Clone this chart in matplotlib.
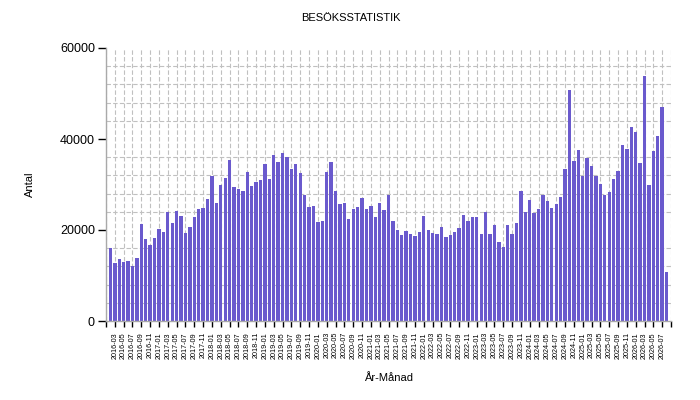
import matplotlib
matplotlib.use("Agg")
import matplotlib.pyplot as plt
from matplotlib.ticker import MultipleLocator, FixedLocator
import pandas as pd

plt.rcParams['font.family'] = ['Liberation Sans', 'DejaVu Sans']

# monthly visitor counts, 2016-02 .. 2026-08
months = [p.strftime('%Y-%m') for p in pd.period_range('2016-02', '2026-08', freq='M')]
antal = [
    16000, 12750, 13600, 13000, 13200, 12100, 13850, 21300, 18000, 16700,
    18250, 20200, 19550, 23950, 21550, 24200, 23100, 19350, 20650, 22850,
    24600, 24850, 26800, 31850, 25950, 29900, 31450, 35400, 29450, 29000,
    28550, 32750, 29650, 30550, 31000, 34500, 31200, 36500, 34950, 36900,
    36050, 33400, 34500, 32550, 27700, 25050, 25250, 21750, 22000, 32750,
    34950, 28550, 25700, 25950, 22400, 24600, 25050, 27050, 24600, 25250,
    22850, 25950, 24400, 27700, 22000, 20000, 18900, 19800, 19100, 18700,
    19550, 23100, 20000, 19350, 19100, 20650, 18450, 18900, 19550, 20450,
    23300, 22000, 22850, 22850, 19100, 23950, 19100, 21100, 17350, 16250,
    21100, 19100, 21550, 28550, 23950, 26600, 23750, 24600, 27700, 26350,
    24850, 25700, 27250, 33400, 50750, 35150, 37600, 31850, 35800, 34050,
    31850, 30100, 27700, 28350, 31200, 32950, 38700, 37800, 42650, 41550,
    34700, 53850, 29900, 37350, 40650, 47050, 10750,
]

fig = plt.figure(figsize=(7, 4), dpi=100)
ax = fig.add_axes([106 / 700, 1 - 321 / 400, 565 / 700, 273 / 400])

x = list(range(len(months)))
ax.bar(x, antal, width=0.76, color='#6A5ACD', zorder=2)

ax.set_xlim(-1, len(months))
ax.set_ylim(0, 60000)

# ticks every second month, grid on the same positions
tick_pos = list(range(-1, len(months) + 1, 2))
tick_lab = [months[p] if 0 <= p < len(months) else '' for p in tick_pos]
ax.xaxis.set_major_locator(FixedLocator(tick_pos))
ax.set_xticklabels(tick_lab, rotation=90, fontsize=5.2)
ax.yaxis.set_major_locator(MultipleLocator(20000))
ax.yaxis.set_minor_locator(MultipleLocator(4000))
ax.tick_params(axis='x', length=4, width=1, pad=4, color='black')
ax.tick_params(axis='y', which='major', length=6, width=1, pad=2, labelsize=9, color='black')
ax.tick_params(axis='y', which='minor', length=0)

ax.grid(True, which='major', axis='x', color='#C0C0C0', linestyle=(0, (4, 2)), linewidth=0.8, zorder=0)
ax.grid(True, which='minor', axis='y', color='#C0C0C0', linestyle=(0, (4, 2)), linewidth=0.8, zorder=0)
ax.set_axisbelow(True)

for s in ['top', 'right']:
    ax.spines[s].set_visible(False)
for s in ['left', 'bottom']:
    ax.spines[s].set_color('#A9A9A9')
    ax.spines[s].set_linewidth(1)

ax.set_xlabel('År-Månad', fontsize=8)
ax.xaxis.set_label_coords(0.5, -(378 - 321) / 273 + 0.02)
ax.set_ylabel('Antal', fontsize=8)
ax.yaxis.set_label_coords(-(106 - 35) / 565, 0.5)

fig.text(0.5 + 1 / 700, 1 - 18 / 400, 'BESÖKSSTATISTIK', ha='center', va='center', fontsize=8)

fig.savefig('out.png', dpi=100)
